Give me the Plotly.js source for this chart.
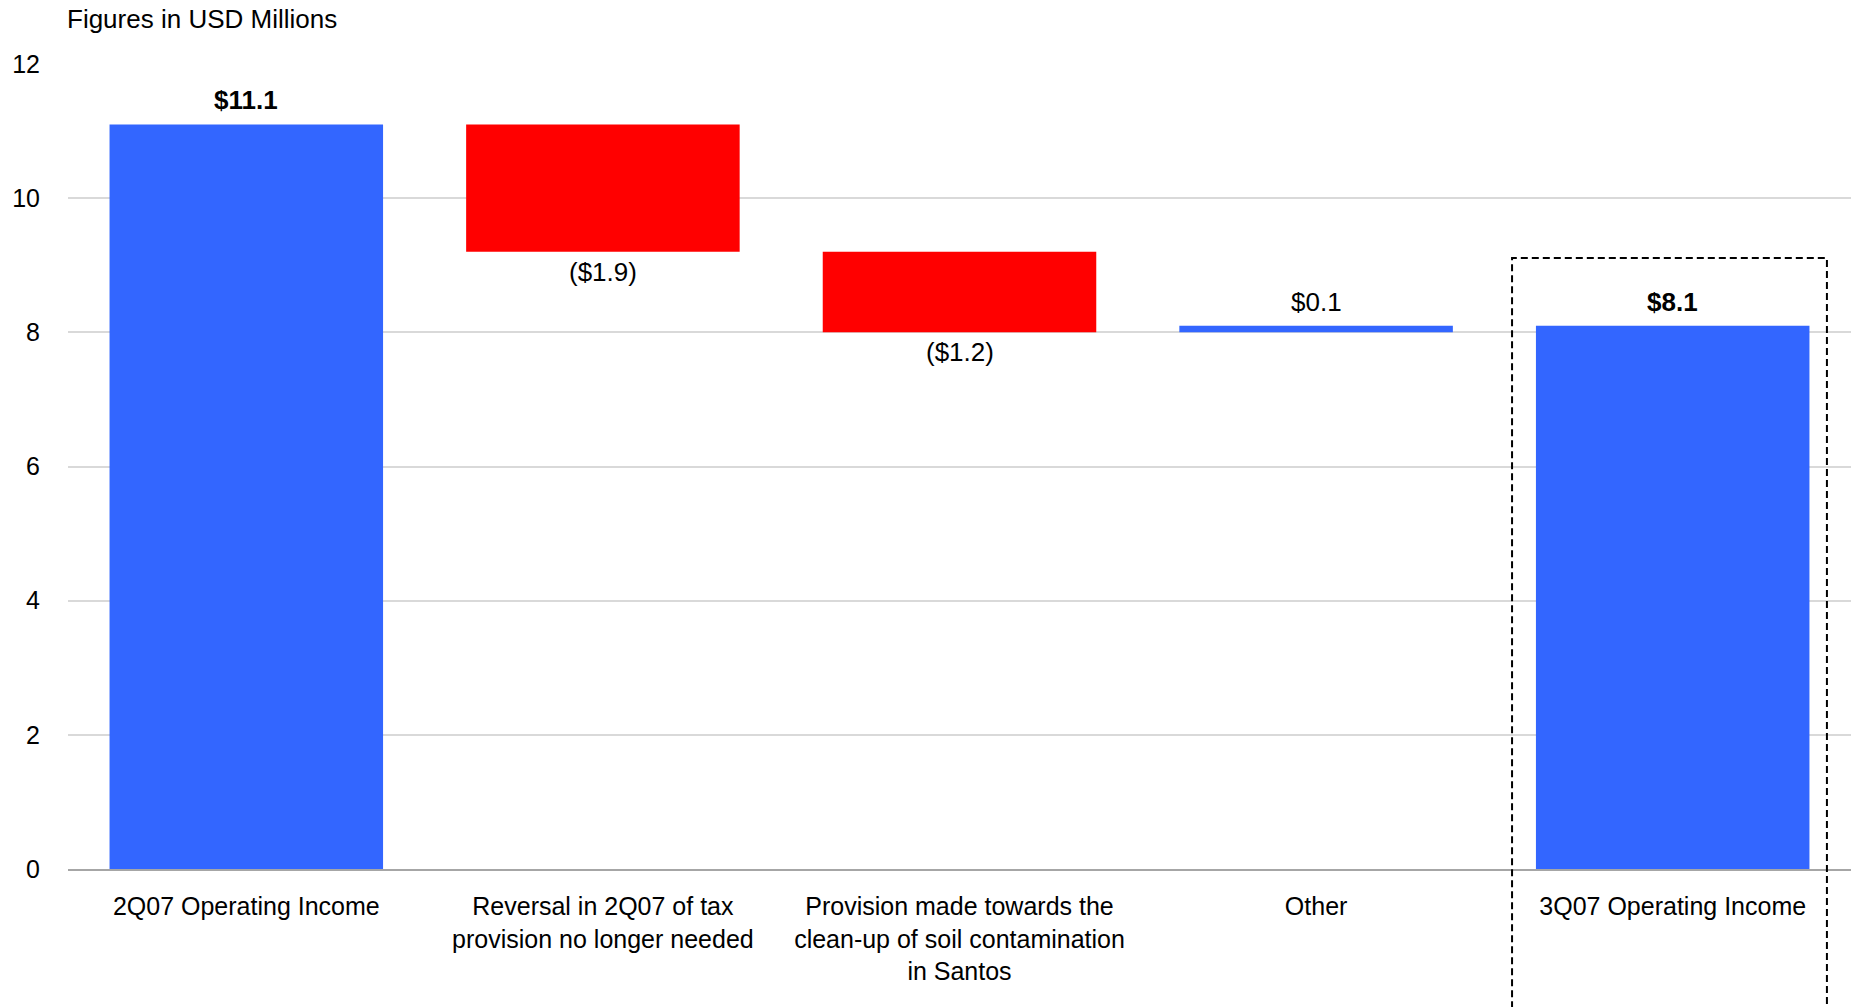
<!DOCTYPE html>
<html>
<head>
<meta charset="utf-8">
<script src="https://cdn.plot.ly/plotly-3.0.1.min.js"></script>
<style>html,body{margin:0;padding:0;background:#fff;}#chart{width:1856px;height:1007px;}</style>
</head>
<body>
<div id="chart"></div>
<script>
const categories = [
  "2Q07 Operating Income",
  "Reversal in 2Q07 of tax<br>provision no longer needed",
  "Provision made towards the<br>clean-up of soil contamination<br>in Santos",
  "Other",
  "3Q07 Operating Income"
];
const measures = ["absolute", "relative", "relative", "relative", "total"];
const values = [11.1, -1.9, -1.2, 0.1, 8.1];
const valueLabels = ["<b>$11.1</b>", "($1.9)", "($1.2)", "$0.1", "<b>$8.1</b>"];
const yTickValues = [0, 2, 4, 6, 8, 10, 12];

const FONT = '"Liberation Sans", Arial, sans-serif';
const BLUE = '#3366FF';
const RED = '#FF0000';

const trace = {
  type: 'waterfall',
  x: categories,
  y: values,
  measure: measures,
  textinfo: 'none',
  connector: {visible: false},
  increasing: {marker: {color: BLUE}},
  decreasing: {marker: {color: RED}},
  totals: {marker: {color: BLUE}},
  hoverinfo: 'skip'
};

// value labels placed at the end of each waterfall bar (running total computed from data)
const labelAnnotations = [];
let running = 0;
categories.forEach((c, i) => {
  let end;
  if (measures[i] === 'absolute') { running = values[i]; end = running; }
  else if (measures[i] === 'relative') { running += values[i]; end = running; }
  else { end = running; }
  const neg = measures[i] === 'relative' && values[i] < 0;
  labelAnnotations.push({
    x: c, y: end, xref: 'x', yref: 'y',
    text: valueLabels[i],
    showarrow: false,
    xanchor: 'center',
    yanchor: neg ? 'top' : 'bottom',
    yshift: neg ? -3 : 7,
    font: {family: FONT, size: 26, color: '#000'}
  });
});

const layout = {
  width: 1856,
  height: 1007,
  margin: {l: 68, r: 5, t: 64, b: 138, pad: 0},
  paper_bgcolor: '#fff',
  plot_bgcolor: '#fff',
  showlegend: false,
  waterfallgap: 0.233,
  font: {family: FONT, size: 25, color: '#000'},
  xaxis: {
    type: 'category',
    showgrid: false,
    showline: true,
    linecolor: '#a6a6a6',
    linewidth: 2,
    ticks: '',
    ticklabelstandoff: 14,
    tickfont: {family: FONT, size: 25, color: '#000'},
    zeroline: false,
    fixedrange: true
  },
  yaxis: {
    range: [0, 12],
    tickvals: yTickValues,
    ticktext: yTickValues.map(String),
    showgrid: true,
    gridcolor: '#d9d9d9',
    gridwidth: 2,
    zeroline: false,
    showline: false,
    ticks: '',
    ticklabelstandoff: 27,
    tickfont: {family: FONT, size: 25, color: '#000'},
    fixedrange: true
  },
  annotations: [{
    text: 'Figures in USD Millions',
    xref: 'paper', yref: 'paper',
    x: 0, y: 1.056,
    xanchor: 'left', yanchor: 'middle',
    xshift: -3,
    showarrow: false,
    font: {family: FONT, size: 26, color: '#000'}
  }].concat(labelAnnotations),
  shapes: [{
    type: 'rect',
    xref: 'paper', yref: 'paper',
    x0: 0.8099, x1: 0.9865,
    y0: -0.2, y1: 0.759,
    line: {color: '#000', width: 2, dash: '7px,4px'},
    fillcolor: 'rgba(0,0,0,0)',
    layer: 'above'
  }]
};

Plotly.newPlot('chart', [trace], layout, {displayModeBar: false, staticPlot: true});
</script>
</body>
</html>
